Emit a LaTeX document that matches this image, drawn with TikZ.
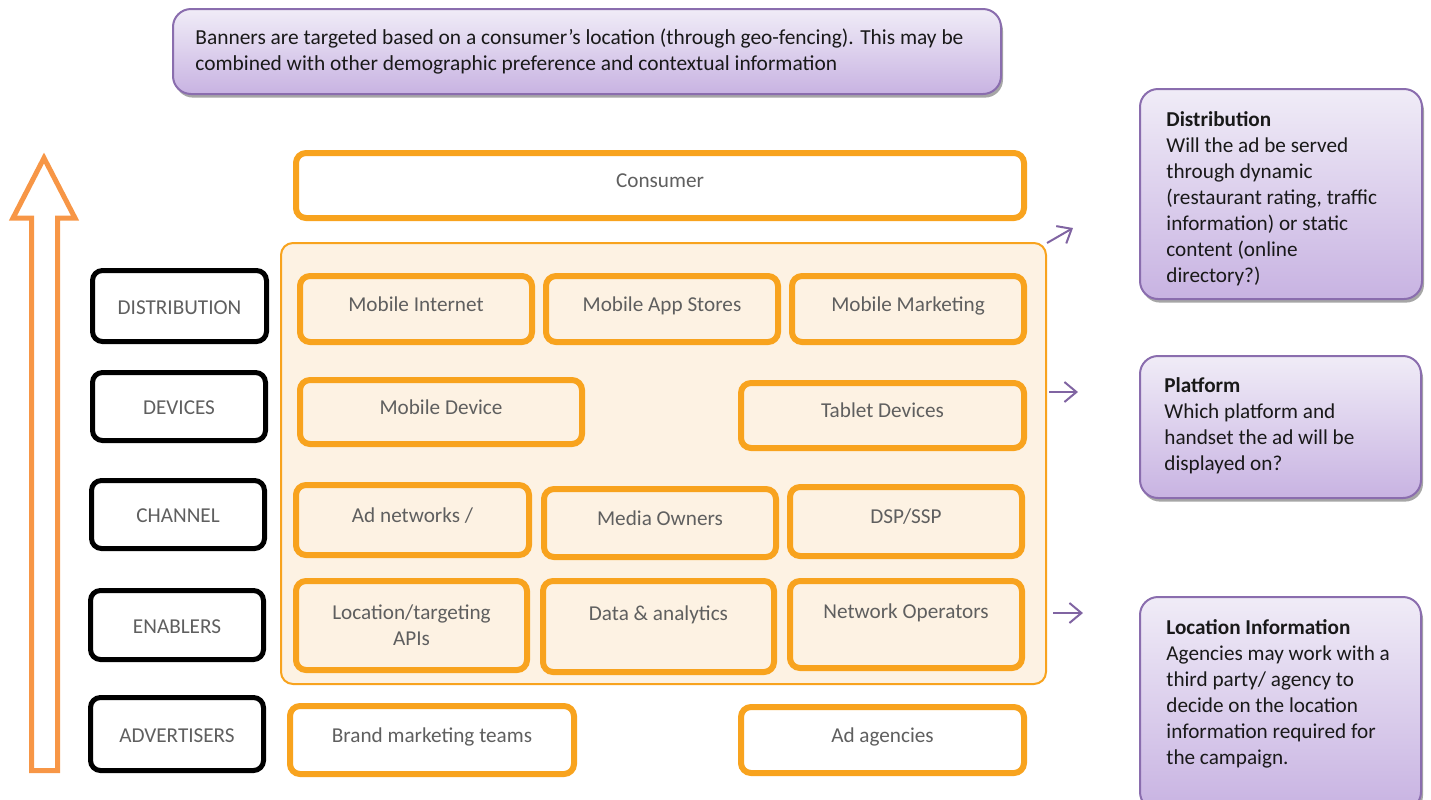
\documentclass[tikz,border=0pt]{standalone}
\usepackage{fontspec}
\setmainfont{Carlito}
\usetikzlibrary{arrows.meta,shadows}
\definecolor{oborder}{HTML}{F8A31E}
\definecolor{cfill}{HTML}{FDF2E3}
\definecolor{txtgray}{HTML}{5F5F5F}
\definecolor{bigarrow}{HTML}{F79646}
\definecolor{pborder}{HTML}{8A6DAE}
\definecolor{ptop}{HTML}{F0ECF7}
\definecolor{pbot}{HTML}{C8B3E2}
\definecolor{parrowc}{HTML}{8064A2}
\begin{document}
\begin{tikzpicture}[x=0.5pt,y=-0.5pt,
  every node/.style={font=\fontsize{10.6}{13}\selectfont},
  obx/.style={draw=oborder, line width=3pt, rounded corners=5pt, fill=cfill, align=center, inner sep=0pt, text=txtgray},
  sl/.style={text height=4.2pt, text depth=2.2pt},
  wbx/.style={obx, fill=white},
  lbx/.style={draw=black, line width=2.5pt, rounded corners=5pt, fill=white, inner sep=0pt, text=txtgray,
    text height=10pt, text depth=2pt},
  cont/.style={draw=oborder, line width=1pt, rounded corners=6pt, fill=cfill, inner sep=0pt},
  pbx/.style={draw=pborder, line width=1pt, rounded corners=9pt, top color=ptop, bottom color=pbot, inner sep=0pt,
    drop shadow={shadow xshift=1pt, shadow yshift=-1.8pt, fill=black, opacity=0.35}},
  ptext/.style={anchor=north west, align=left, inner sep=0pt, text=black!90},
  parrow/.style={draw=parrowc, line width=1pt, -{Straight Barb[length=6pt,width=10pt,line width=1pt]}}
]
\useasboundingbox (0,0) rectangle (1431,799);

% top banner
\node[pbx, minimum width=414pt, minimum height=42.5pt] (banner) at (587,51.5) {};
\node[ptext, font=\fontsize{10.7}{13}\selectfont] (bannertext) at (195,28) {Banners are targeted based on a consumer’s location (through geo-fencing). This may be\\combined with other demographic preference and contextual information};

% big hollow up arrow
\draw[bigarrow, line width=2.5pt, line join=miter] (31.5,770.5) -- (31.5,218) -- (13,218) -- (44,158) -- (75,218) -- (57.5,218) -- (57.5,770.5) -- cycle;

% left labels
\node[lbx, minimum width=87pt, minimum height=35.5pt] (ldist) at (179.5,306) {DISTRIBUTION};
\node[lbx, minimum width=86.5pt, minimum height=34pt] (ldev) at (179,406.5) {DEVICES};
\node[lbx, minimum width=86.5pt, minimum height=34pt] (lchan) at (178,514.5) {CHANNEL};
\node[lbx, minimum width=86.5pt, minimum height=34.5pt] (lenab) at (177,625) {ENABLERS};
\node[lbx, minimum width=86.5pt, minimum height=36.5pt] (ladv) at (177,734) {ADVERTISERS};

% consumer
\node[wbx, sl, minimum width=364pt, minimum height=32.5pt] (consumer) at (660,185.5) {Consumer};

% container
\node[cont, minimum width=382.5pt, minimum height=220.5pt] (container) at (663.5,463.5) {};

% distribution row
\node[obx, sl, minimum width=116pt, minimum height=33pt] (mi) at (416,309) {Mobile Internet};
\node[obx, sl, minimum width=116pt, minimum height=33pt] (mas) at (662,309) {Mobile App Stores};
\node[obx, sl, minimum width=116pt, minimum height=33pt] (mm) at (908,309) {Mobile Marketing};

% devices row
\node[obx, sl, minimum width=141pt, minimum height=32pt] (md) at (441,412) {Mobile Device};
\node[obx, sl, minimum width=141.5pt, minimum height=32.5pt] (td) at (882.5,415.5) {Tablet Devices};

% channel row
\node[obx, sl, minimum width=116.5pt, minimum height=35pt] (an) at (412.5,520) {Ad networks /};
\node[obx, sl, minimum width=116pt, minimum height=34pt] (mo) at (660,523) {Media Owners};
\node[obx, sl, minimum width=116pt, minimum height=34.5pt] (dsp) at (906,521.5) {DSP/SSP};

% enablers row
\node[obx, minimum width=115.5pt, minimum height=44.5pt] (loc) at (411.5,625.5) {Location/targeting\\APIs};
\node[obx, minimum width=115.5pt, minimum height=45.5pt] (da) at (658.5,626.5) {Data \& analytics\\\mbox{}};
\node[obx, minimum width=116pt, minimum height=43.5pt] (no) at (906,624.5) {Network Operators\\\mbox{}};

% advertisers row
\node[wbx, sl, minimum width=142pt, minimum height=34pt] (bmt) at (432,740) {Brand marketing teams};
\node[wbx, sl, minimum width=141.5pt, minimum height=33pt] (aa) at (882.5,740) {Ad agencies};

% right info boxes
\node[pbx, minimum width=141pt, minimum height=105pt] (rdist) at (1281,194) {};
\node[ptext] (rdisttext) at (1166,111) {\textbf{Distribution}\\Will the ad be served\\through dynamic\\(restaurant rating, traffic\\information) or static\\content (online\\directory?)};
\node[pbx, minimum width=140.5pt, minimum height=71pt] (rplat) at (1280.5,427) {};
\node[ptext] (rplattext) at (1164,377) {\textbf{Platform}\\Which platform and\\handset the ad will be\\displayed on?};
\node[pbx, minimum width=140.5pt, minimum height=106.5pt] (rloc) at (1280.5,703.5) {};
\node[ptext] (rloctext) at (1166,619) {\textbf{Location Information}\\Agencies may work with a\\third party/ agency to\\decide on the location\\information required for\\the campaign.};

% purple arrows
\coordinate (a1s) at (1047,243);
\coordinate (a1e) at (1073,228);
\coordinate (a2s) at (1049,392);
\coordinate (a2e) at (1078,392);
\coordinate (a3s) at (1053,613);
\coordinate (a3e) at (1083,613);
\draw[parrow] (a1s) -- (a1e);
\draw[parrow] (a2s) -- (a2e);
\draw[parrow] (a3s) -- (a3e);
\end{tikzpicture}
\end{document}
